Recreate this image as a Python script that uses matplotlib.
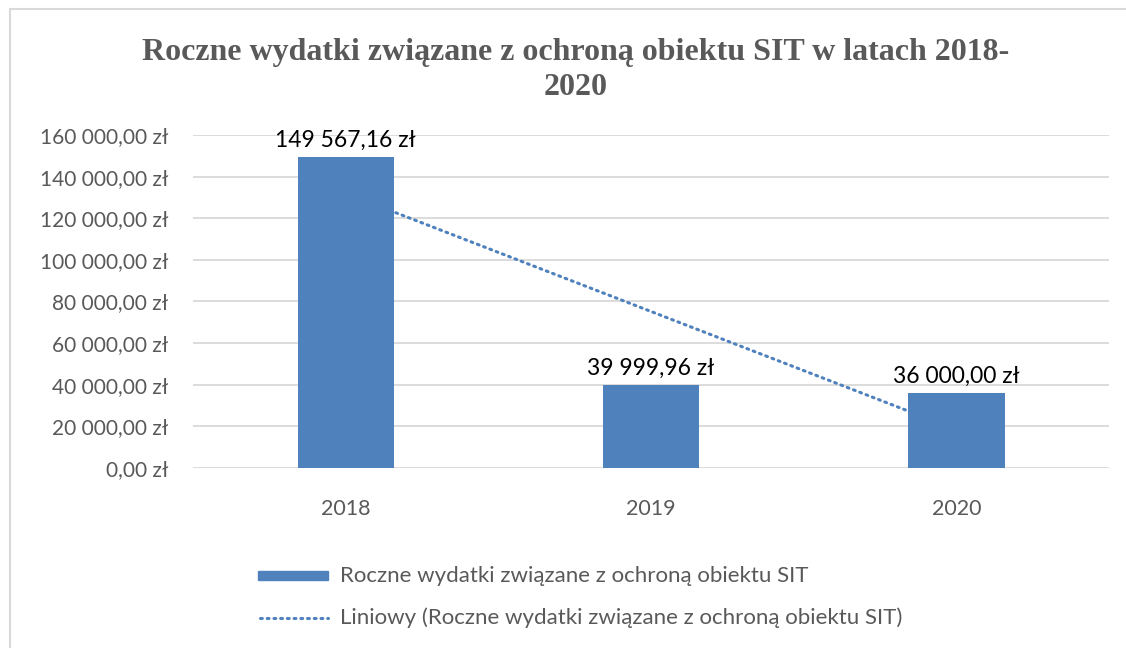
import matplotlib
matplotlib.use("Agg")
import matplotlib.pyplot as plt
import numpy as np
from matplotlib.patches import Rectangle
from matplotlib.lines import Line2D
from matplotlib.ticker import FuncFormatter

YEARS = ["2018", "2019", "2020"]
VALUES = [149567.16, 39999.96, 36000.00]
TITLE = "Roczne wydatki związane z ochroną obiektu SIT w latach 2018-\n2020"
SERIES = "Roczne wydatki związane z ochroną obiektu SIT"
TREND = "Liniowy (Roczne wydatki związane z ochroną obiektu SIT)"

BLUE = "#4f81bd"
TEXT = "#595959"
GRID = "#d9d9d9"

plt.rcParams["font.family"] = ["Lato", "DejaVu Sans"]


def pln(v, _=None):
    s = f"{v:,.2f}".replace(",", " ").replace(".", ",")
    return s + " zł"


fig = plt.figure(figsize=(11.26, 6.48), dpi=100)
ax = fig.add_axes([0.1714, 0.2778, 0.8136, 0.5139])

x = np.arange(1, len(YEARS) + 1)
ax.bar(x, VALUES, width=0.315, color=BLUE, zorder=3)

# linear trendline (least squares over category index)
k, b = np.polyfit(x, VALUES, 1)
tx = np.array([x[0], x[-1]])
ax.plot(tx, k * tx + b, color=BLUE, lw=2.2, ls=(0, (0.6, 1.6)),
        dash_capstyle="round", zorder=2)

for xi, v in zip(x, VALUES):
    ax.text(xi, v + 3000, pln(v), ha="center", va="bottom", fontsize=16.5, color="black")

ax.set_xlim(0.5, 3.5)
ax.set_ylim(0, 160000)
ax.set_yticks(np.arange(0, 160001, 20000))
ax.yaxis.set_major_formatter(FuncFormatter(pln))
ax.set_xticks(x, YEARS)
ax.tick_params(axis="y", length=0, labelsize=15, labelcolor=TEXT, pad=18)
ax.tick_params(axis="x", length=0, labelsize=15.5, labelcolor=TEXT, pad=22)
ax.yaxis.grid(True, color=GRID, lw=1.3, zorder=0)
for s in ax.spines.values():
    s.set_visible(False)

fig.text(0.511, 0.941, TITLE, ha="center", va="top", fontsize=23, fontweight="bold",
         family="Liberation Serif", color=TEXT, linespacing=1.27)

# legend drawn manually in figure coords
fig.patches.append(Rectangle((258 / 1126, 1 - 580 / 648), 70 / 1126, 9 / 648,
                             transform=fig.transFigure, color=BLUE))
fig.text(340 / 1126, 1 - 576 / 648, SERIES, va="center", fontsize=16, color=TEXT)
fig.lines.append(Line2D([260 / 1126, 328 / 1126], [1 - 618 / 648] * 2, transform=fig.transFigure,
                        color=BLUE, lw=2.2, ls=(0, (0.6, 1.6)), dash_capstyle="round"))
fig.text(340 / 1126, 1 - 618 / 648, TREND, va="center", fontsize=16, color=TEXT)

# chart border
fig.patches.append(Rectangle((10 / 1126, -0.05), 1.1, 1 - 9 / 648 + 0.05,
                             transform=fig.transFigure, fill=False, edgecolor=GRID, lw=1.5))

fig.savefig("out.png", dpi=100)
